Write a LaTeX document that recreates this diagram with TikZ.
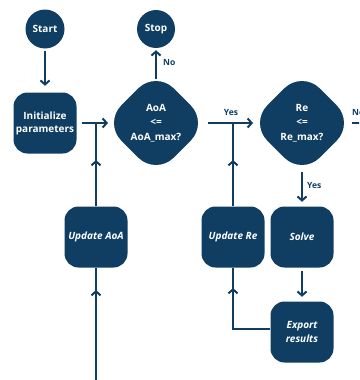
\documentclass[tikz,border=0pt]{standalone}
\usepackage{fontspec}
\setmainfont{Open Sans}
\usetikzlibrary{arrows.meta}
\definecolor{navy}{HTML}{0F3E62}
\tikzset{
  x=1pt, y=-1pt,
  every node/.style={font=\bfseries\fontsize{10}{13}\selectfont},
  circ/.style={circle, fill=navy, text=white, minimum size=39pt, inner sep=0pt},
  boxnode/.style={rectangle, rounded corners=14pt, fill=navy, text=white,
    minimum width=63pt, minimum height=61pt, inner sep=0pt, align=center},
  ibox/.style={boxnode, font=\bfseries\itshape\fontsize{10}{14}\selectfont},
  decide/.style={text=white, inner sep=0pt, align=center,
    font=\bfseries\fontsize{10}{14.5}\selectfont},
  decidebody/.style={rectangle, rotate=45, fill=navy, rounded corners=25pt,
    minimum size=74pt, inner sep=0pt},
  conn/.style={navy, line width=2pt},
  arr/.style={conn, -{Straight Barb[length=4pt,width=9pt]}},
  lbl/.style={text=navy, font=\bfseries\fontsize{8.5}{10}\selectfont, inner sep=0pt}
}
\begin{document}
\begin{tikzpicture}
\useasboundingbox (0,0) rectangle (359,380);
\clip (0,0) rectangle (359,380);

% rounded diamond bodies: squares with rounded corners turned by 45 degrees
\node[decidebody] (aoabody) at (156,123) {};
\node[decidebody] (rebody) at (302,123) {};

% nodes
\node[circ] (start) at (45,29) {Start};
\node[circ, minimum size=38pt] (stop) at (156,29) {Stop};
\node[boxnode] (init) at (45,123) {Initialize\\parameters};
\node[decide] (aoa) at (156,123) {AoA\\<=\\AoA\_max?};
\node[decide] (re) at (302,123) {Re\\<=\\Re\_max?};
\node[ibox] (updaoa) at (96,237) {Update AoA};
\node[ibox] (updre) at (233,237) {Update Re};
\node[ibox] (solve) at (302,237) {Solve};
\node[ibox] (export) at (302,332) {Export\\results};

% edge points of the decision shapes
\coordinate (aoaN) at (156,79);
\coordinate (aoaW) at (108,123);
\coordinate (aoaE) at (208,123);
\coordinate (reW) at (253,123);
\coordinate (reE) at (352,123);
\coordinate (reS) at (302,172);

% helper points
\coordinate (j1) at (96,123);
\coordinate (j2) at (233,123);
\coordinate (a1) at (96,160);
\coordinate (low) at (96,390);
\coordinate (a2) at (96,290);
\coordinate (a3) at (233,160);
\coordinate (kre) at (233,329);
\coordinate (a4) at (233,288);
\coordinate (out) at (372,123);

% main flow
\draw[arr, shorten <=2pt, shorten >=6.5pt] (start) -- (init);
\draw[arr, shorten <=5.5pt] (init.east) -- (aoaW);
\draw[arr, shorten >=2pt] (aoaN) -- (stop.south);
\draw[arr] (aoaE) -- (reW);
\draw[arr] (reE) -- (out);
\draw[arr, shorten >=4.5pt] (reS) -- (solve.north);
\draw[arr, shorten <=3.5pt, shorten >=4.5pt] (solve.south) -- (export.north);

% AoA loop
\draw[conn] (low) -- (updaoa.south);
\draw[arr] (low) -- (a2);
\draw[conn] (updaoa.north) -- (j1);
\draw[arr] (updaoa.north) -- (a1);

% Re loop
\draw[conn] ([yshift=3pt]export.west) -- (kre) -- (updre.south);
\draw[arr] (kre) -- (a4);
\draw[conn] (updre.north) -- (j2);
\draw[arr] (updre.north) -- (a3);

% labels
\node[lbl, anchor=west] (lno) at (163,63) {No};
\node[lbl] (lyes1) at (231,113) {Yes};
\node[lbl, anchor=west] (lyes2) at (307,186) {Yes};
\node[lbl, anchor=west] (lno2) at (352,113) {No};
\end{tikzpicture}
\end{document}
